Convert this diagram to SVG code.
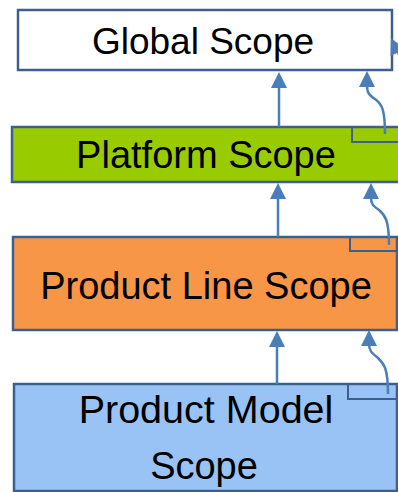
<svg xmlns="http://www.w3.org/2000/svg" width="398" height="492" viewBox="0 0 398 492">
<defs>
<style>
.box{stroke:#3D5F8F;stroke-width:2.5}
.tab{fill:none;stroke:#3D5F8F;stroke-width:2}
.lbl{font-family:"Liberation Sans",Arial,sans-serif;font-size:38px;fill:#000;text-anchor:middle}
.con{fill:none;stroke:#4A7EBB;stroke-width:2.5}
.head{fill:#4A7EBB}
</style>
<path id="ah" class="head" d="M0,0 L8,16 L-8,16 z"/>
</defs>
<rect width="398" height="492" fill="#fff"/>
<g id="global">
<rect class="box" x="18" y="10" width="374" height="60" fill="#fff"/>
<text class="lbl" x="203" y="54" style="font-size:37px">Global Scope</text>
</g>
<g id="platform">
<rect class="box" x="12" y="127" width="390" height="55" fill="#99CC00"/>
<path class="tab" d="M400,142 H352 V127"/>
<text class="lbl" x="206" y="168">Platform Scope</text>
</g>
<g id="productline">
<rect class="box" x="13" y="237" width="384" height="93" fill="#F79646"/>
<path class="tab" d="M397,251 H350 V237"/>
<text class="lbl" x="206" y="299">Product Line Scope</text>
</g>
<g id="productmodel">
<rect class="box" x="14" y="384" width="383" height="107" fill="#99C3F5"/>
<path class="tab" d="M397,399 H348 V384"/>
<text class="lbl" x="206" y="423" style="font-size:39.5px">Product Model</text>
<text class="lbl" x="204" y="479">Scope</text>
</g>
<g id="connectors">
<line class="con" x1="279" y1="127" x2="279" y2="86"/>
<use href="#ah" x="279" y="72"/>
<line class="con" x1="278" y1="237" x2="278" y2="197"/>
<use href="#ah" x="278" y="183"/>
<line class="con" x1="277" y1="384" x2="277" y2="345"/>
<use href="#ah" x="277" y="331"/>
<path class="con" d="M385,134 C385,110 382,104 375,99 C369,95 367,93 367,85"/>
<use href="#ah" x="367" y="71"/>
<path class="con" d="M389,245 C389,220 385,215 379,210 C373,206 371,204 371,197"/>
<use href="#ah" x="371" y="183"/>
<path class="con" d="M388,394 C388,368 384,364 378,358 C372,353 369,351 369,344"/>
<use href="#ah" x="369" y="330"/>
<path class="con" d="M412,72 C405,65 401,60 398,52"/>
<use href="#ah" transform="translate(391,38) rotate(-25)"/>
</g>
</svg>
